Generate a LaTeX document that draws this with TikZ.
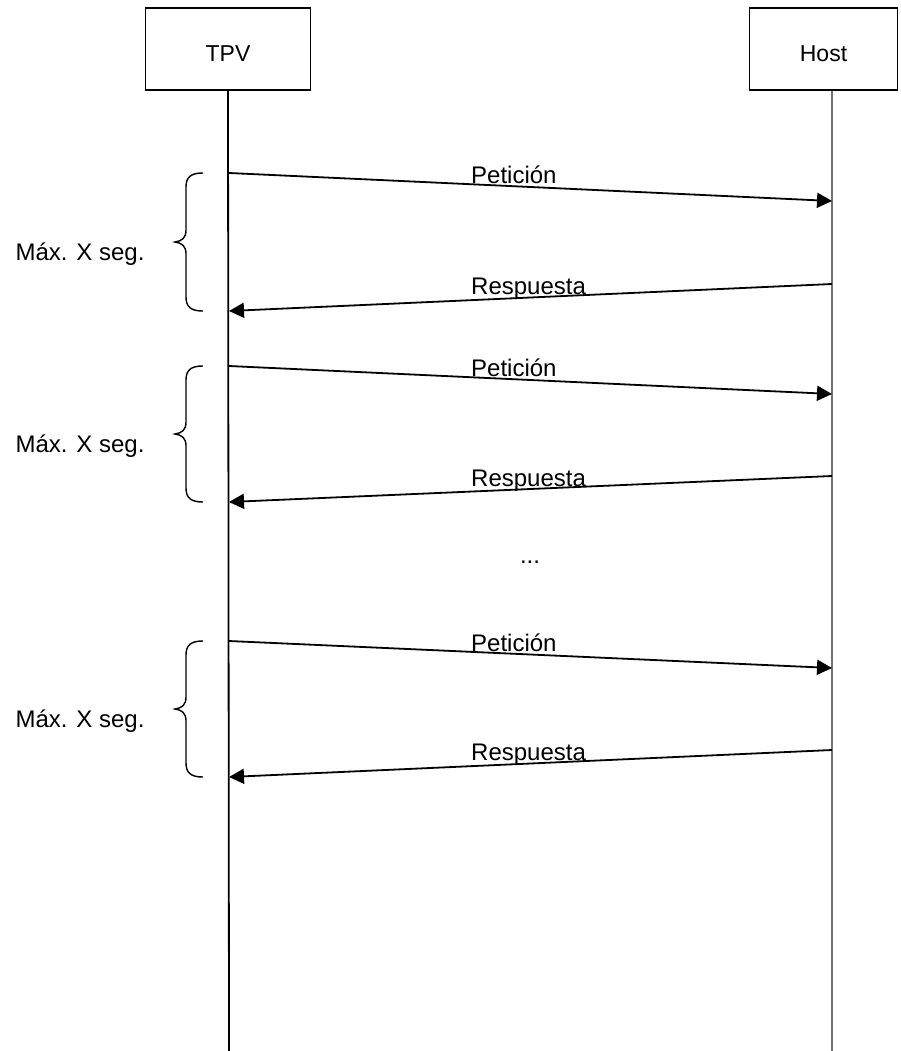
\documentclass[tikz,border=0pt]{standalone}
\usepackage{fontspec}
\setmainfont{Liberation Sans}
\usetikzlibrary{arrows.meta}
\begin{document}
\begin{tikzpicture}[x=1pt,y=-1pt,
  actor/.style={draw, line width=1.6pt, minimum width=165pt, minimum height=82pt, inner sep=0pt, text height=29pt, text depth=4pt, font=\fontsize{23}{25}\selectfont},
  life/.style={line width=1.8pt},
  msg/.style={line width=1.8pt, -{Triangle[length=15pt,width=15pt]}},
  lbl/.style={anchor=base west, inner sep=0pt, font=\fontsize{24}{26}\selectfont},
  brc/.style={line width=1.4pt},
  side/.style={font=\fontsize{24}{26}\selectfont, inner sep=0pt}]
\useasboundingbox (0,0) rectangle (900,1051);
\node[actor] (tpv) at (228,49) {TPV};
\node[actor, minimum width=148pt] (host) at (823.5,49) {Host};
\coordinate (tpvend) at (229,1051);
\coordinate (hostend) at (832,1051);
\draw[life] (tpv.south) -- (tpvend);
\draw[life, black!55] (host.south -| hostend) -- (hostend);
% message end points
\foreach \n/\ya/\yb/\yc/\yd in {1/173/201/284/311, 2/366/394/476/502, 3/641/668/750/777}{
  \coordinate (pa\n) at (229,\ya);
  \coordinate (pb\n) at (832,\yb);
  \coordinate (ra\n) at (832,\yc);
  \coordinate (rb\n) at (229,\yd);
}
\foreach \n in {1,2,3}{
  \draw[msg] (pa\n) -- (pb\n);
  \draw[msg] (ra\n) -- (rb\n);
}
\node[lbl] (p1) at (471,183) {Petición};
\node[lbl] (r1) at (471,294) {Respuesta};
\node[lbl] (p2) at (471,376) {Petición};
\node[lbl] (r2) at (471,486) {Respuesta};
\node[lbl] (p3) at (471,651) {Petición};
\node[lbl] (r3) at (471,760) {Respuesta};
\node[side] (dots) at (530,562) {...};
% braces
\foreach \n/\t/\b in {1/173/311, 2/366/502, 3/641/777}{
  \pgfmathsetmacro{\m}{(\t+\b)/2}
  \draw[brc] (203,\t) .. controls (191,\t) and (186,\t+4) .. (186,\t+14)
    -- (186,\m-12) .. controls (186,\m-4) and (182,\m-1) .. (175,\m)
    .. controls (182,\m+1) and (186,\m+4) .. (186,\m+12)
    -- (186,\b-14) .. controls (186,\b-4) and (191,\b) .. (203,\b);
  \node[side] (max\n) at (80,\m+12) {Máx. X seg.};
}
\end{tikzpicture}
\end{document}
